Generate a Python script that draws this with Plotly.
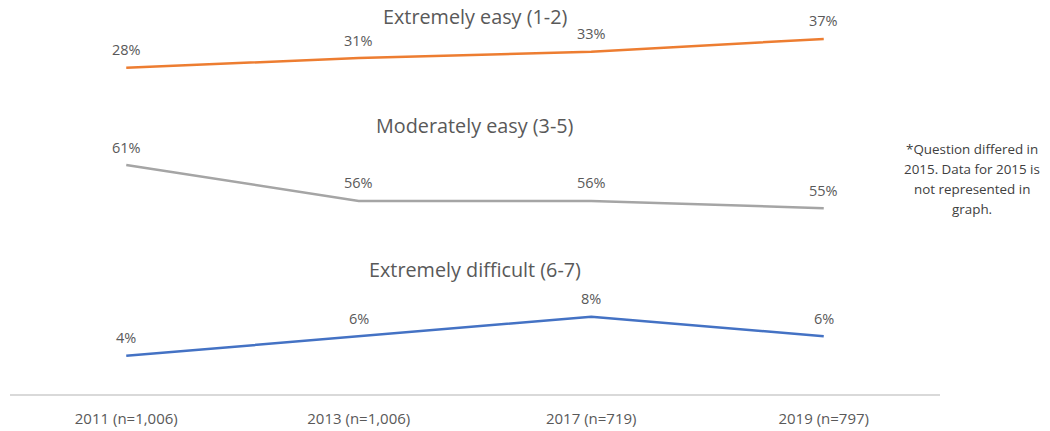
import plotly.graph_objects as go

# Survey waves (x categories)
waves = ["2011 (n=1,006)", "2013 (n=1,006)", "2017 (n=719)", "2019 (n=797)"]

# Share of respondents per rating band, in percent
extremely_easy = [28, 31, 33, 37]
moderately_easy = [61, 56, 56, 55]
extremely_difficult = [4, 6, 8, 6]

panel_titles = ["Extremely easy (1-2)", "Moderately easy (3-5)", "Extremely difficult (6-7)"]
note_lines = ["*Question differed in", "2015. Data for 2015 is", "not represented in", "graph."]

FONT = "Open Sans"
TEXT = "#595959"

# Each band gets its own stacked panel with an independent value axis
panels = [
    dict(values=extremely_easy, color="#ED7D31", axis="y3", rng=[20, 45], dom=[0.764, 0.966], title_y=0.958),
    dict(values=moderately_easy, color="#A5A5A5", axis="y2", rng=[50, 65], dom=[0.382, 0.655], title_y=0.683),
    dict(values=extremely_difficult, color="#4472C4", axis="y", rng=[0, 10], dom=[0.0, 0.248], title_y=0.317),
]

fig = go.Figure()
annotations = []
for p, title in zip(panels, panel_titles):
    fig.add_trace(go.Scatter(
        x=waves, y=p["values"], mode="lines", xaxis="x", yaxis=p["axis"],
        line=dict(color=p["color"], width=2.5), hoverinfo="skip", showlegend=False,
    ))
    for w, v in zip(waves, p["values"]):
        annotations.append(dict(
            x=w, y=v, xref="x", yref=p["axis"], text=f"{v}%", showarrow=False,
            yanchor="middle", yshift=18, font=dict(family=FONT, size=14.5, color=TEXT),
        ))
    annotations.append(dict(
        x=0.5, y=p["title_y"], xref="paper", yref="paper", text=title, showarrow=False,
        xanchor="center", yanchor="middle", font=dict(family=FONT, size=19.8, color=TEXT),
    ))

# Footnote on the right
for i, line in enumerate(note_lines):
    annotations.append(dict(
        x=1.0345, y=(395 - 149 - i * 20) / 395, xref="paper", yref="paper", text=line,
        showarrow=False, xanchor="center", yanchor="middle",
        font=dict(family=FONT, size=13.4, color="#404040"),
    ))

def value_axis(p):
    return dict(domain=p["dom"], range=p["rng"], visible=False, fixedrange=True)

fig.update_layout(
    width=1050, height=431,
    margin=dict(l=10, r=110, t=0, b=36),
    paper_bgcolor="white", plot_bgcolor="white",
    font=dict(family=FONT, color=TEXT),
    xaxis=dict(
        type="category", range=[-0.5, 3.5], anchor="free", position=0,
        showline=True, linecolor="#D9D9D9", linewidth=1.5, showgrid=False, zeroline=False,
        ticks="", ticklabelstandoff=10, tickfont=dict(family=FONT, size=15, color=TEXT),
    ),
    yaxis=value_axis(panels[2]),
    yaxis2=value_axis(panels[1]),
    yaxis3=value_axis(panels[0]),
    annotations=annotations,
)

fig.write_html("out.html")
